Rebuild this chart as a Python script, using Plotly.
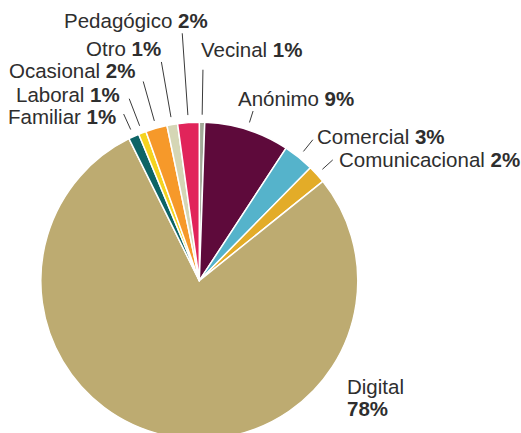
import math
import plotly.graph_objects as go

# ---------------- data ----------------
categories = ["Vecinal", "Anónimo", "Comercial", "Comunicacional", "Digital",
              "Familiar", "Laboral", "Ocasional", "Otro", "Pedagógico"]
values = [0.55, 8.67, 3.14, 1.86, 78.44, 1.08, 0.78, 2.19, 1.08, 2.19]
shown_pct = [1, 9, 3, 2, 78, 1, 1, 2, 1, 2]
colors = ["#a2a998", "#5e0a3b", "#55b3cb", "#e3ac28", "#bdab71",
          "#0d6466", "#f5d320", "#f6992a", "#d5d6b5", "#e1245a"]

# ---------------- layout params ----------------
W, H = 521, 445
CX, CY, R = 199.3, 280.7, 158.5       # pie centre / radius in pixels
R_IN = 166                             # where leader lines start
FONT = "Liberation Sans, Arial, sans-serif"
FSIZE = 20.5
TXT = "#2e2e2e"

# leader outer radius, text anchor and offset from the leader end (px, y down)
label_style = {
    "Vecinal":        dict(r_out=211, xanchor="left",  dx=-4,  dy=-20.5),
    "Anónimo":        dict(r_out=178, xanchor="left",  dx=-17, dy=-13),
    "Comercial":      dict(r_out=181, xanchor="left",  dx=2,   dy=-3.5),
    "Comunicacional": dict(r_out=180, xanchor="left",  dx=4,   dy=0),
    "Familiar":       dict(r_out=183, xanchor="right", dx=-6,  dy=2.5),
    "Laboral":        dict(r_out=195, xanchor="right", dx=-7,  dy=-4),
    "Ocasional":      dict(r_out=207, xanchor="right", dx=-5,  dy=-10.5),
    "Otro":           dict(r_out=222, xanchor="right", dx=2,   dy=-13.5),
    "Pedagógico":     dict(r_out=248, xanchor="right", dx=28,  dy=-13),
}
digital_offset = (145.7, 105.5)   # from pie centre to the Digital label (left, line centre)
digital_line_gap = 22


def px(x):
    return x / W


def py(y):
    return 1 - y / H


fig = go.Figure(go.Pie(
    labels=categories,
    values=values,
    sort=False,
    direction="clockwise",
    rotation=0,
    marker=dict(colors=colors, line=dict(color="white", width=1.5)),
    textinfo="none",
    hoverinfo="none",
    showlegend=False,
    domain=dict(x=[px(CX - R), px(CX + R)], y=[py(CY + R), py(CY - R)]),
))

total = sum(values)
shapes, annotations = [], []
cum = 0.0
for cat, v, pct in zip(categories, values, shown_pct):
    mid = (cum + v / 2) / total * 2 * math.pi
    cum += v
    if cat not in label_style:
        continue
    st = label_style[cat]
    x0 = CX + R_IN * math.sin(mid)
    y0 = CY - R_IN * math.cos(mid)
    x1 = CX + st["r_out"] * math.sin(mid)
    y1 = CY - st["r_out"] * math.cos(mid)
    shapes.append(dict(type="line", xref="paper", yref="paper",
                       x0=px(x0), y0=py(y0), x1=px(x1), y1=py(y1),
                       line=dict(color="#3a3a3a", width=1)))
    annotations.append(dict(
        text=f"{cat} <b>{pct}%</b>", xref="paper", yref="paper",
        x=px(x1 + st["dx"]), y=py(y1 + st["dy"]),
        xanchor=st["xanchor"], yanchor="middle", showarrow=False,
        font=dict(family=FONT, size=FSIZE, color=TXT)))

d_idx = categories.index("Digital")
for k, txt in enumerate([categories[d_idx], f"<b>{shown_pct[d_idx]}%</b>"]):
    annotations.append(dict(
        text=txt, xref="paper", yref="paper",
        x=px(CX + digital_offset[0]),
        y=py(CY + digital_offset[1] + k * digital_line_gap),
        xanchor="left", yanchor="middle", align="left", showarrow=False,
        font=dict(family=FONT, size=FSIZE, color=TXT)))

fig.update_layout(
    width=W, height=H,
    margin=dict(l=0, r=0, t=0, b=0),
    paper_bgcolor="white", plot_bgcolor="white",
    shapes=shapes, annotations=annotations,
)

fig.write_html("out.html", config={"displayModeBar": False},
               post_script="document.documentElement.style.overflow='hidden';"
                           "document.body.style.overflow='hidden';"
                           "document.body.style.margin='0';"
                           "document.body.style.padding='0';")
